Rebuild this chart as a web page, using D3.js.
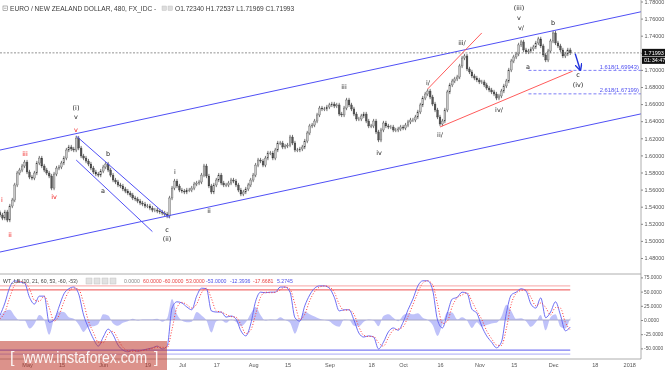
<!DOCTYPE html>
<html>
<head>
<meta charset="utf-8">
<script src="https://cdn.jsdelivr.net/npm/d3@7"></script>
<style>
  body { margin: 0; background: #fff; }
  svg { display: block; font-family: "Liberation Sans", Arial, sans-serif; }
</style>
</head>
<body>
<svg id="chart" width="665" height="370"></svg>
<script>
// daily closes from 2017-04-20 to 2017-12-08 (EUR/NZD)
const startDay = new Date(2017, 3, 20);
const firstOpen = 1.5330;
const closes = [
  1.5303,1.5267,1.5338,1.5244,1.5408,1.5478,1.5654,1.5794,1.5829,1.5876,
  1.5922,1.5806,1.5747,1.5735,1.5794,1.5911,1.5969,1.5876,1.5829,1.5794,
  1.5759,1.5618,1.5782,1.5852,1.5864,1.5911,1.5969,1.6063,1.6098,1.6075,
  1.6063,1.6203,1.6086,1.5993,1.5969,1.5934,1.5899,1.5852,1.5806,1.5782,
  1.5770,1.5817,1.5864,1.5899,1.5829,1.5770,1.5712,1.5689,1.5654,1.5642,
  1.5607,1.5583,1.5560,1.5537,1.5502,1.5490,1.5466,1.5443,1.5431,1.5408,
  1.5408,1.5384,1.5361,1.5361,1.5349,1.5338,1.5326,1.5314,1.5291,1.5502,
  1.5618,1.5700,1.5642,1.5595,1.5583,1.5572,1.5595,1.5595,1.5618,1.5665,
  1.5677,1.5689,1.5770,1.5876,1.5759,1.5642,1.5572,1.5654,1.5712,1.5770,
  1.5677,1.5654,1.5654,1.5677,1.5712,1.5700,1.5654,1.5595,1.5548,1.5572,
  1.5607,1.5654,1.5712,1.5770,1.5887,1.5946,1.5934,1.5887,1.5969,1.6028,
  1.6028,1.5969,1.6063,1.6145,1.6145,1.6098,1.6110,1.6121,1.6215,1.6145,
  1.6063,1.6063,1.6075,1.6098,1.6168,1.6262,1.6344,1.6355,1.6402,1.6473,
  1.6554,1.6543,1.6543,1.6566,1.6590,1.6601,1.6578,1.6590,1.6484,1.6473,
  1.6554,1.6648,1.6590,1.6543,1.6484,1.6426,1.6426,1.6461,1.6484,1.6402,
  1.6344,1.6344,1.6402,1.6274,1.6180,1.6297,1.6379,1.6344,1.6332,1.6332,
  1.6297,1.6297,1.6309,1.6332,1.6320,1.6355,1.6391,1.6414,1.6414,1.6449,
  1.6508,1.6590,1.6671,1.6718,1.6753,1.6683,1.6601,1.6531,1.6449,1.6367,
  1.6402,1.6531,1.6742,1.6824,1.6870,1.6894,1.6917,1.7046,1.7139,1.7163,
  1.7011,1.6976,1.6929,1.6905,1.6882,1.6859,1.6859,1.6824,1.6788,1.6765,
  1.6742,1.6718,1.6671,1.6695,1.6753,1.6812,1.6870,1.6999,1.7104,1.7151,
  1.7186,1.7292,1.7327,1.7233,1.7210,1.7221,1.7245,1.7268,1.7315,1.7362,
  1.7280,1.7175,1.7116,1.7221,1.7338,1.7432,1.7315,1.7280,1.7233,1.7163,
  1.7186,1.7233,1.71993
];

// WaveTrend oscillator, one value every 2 days
const wt1 = [
  8,30,58,69,67,65,40,28,42,42,
  -4,0,23,46,55,58,46,9,-14,-33,
  -46,-30,-16,-26,-44,-53,-56,-53,-55,-53,
  -51,-49,-46,-51,-46,21,32,30,23,18,
  42,56,55,16,14,14,5,7,2,-19,
  -28,-7,33,49,48,49,49,58,58,49,
  4,-2,25,44,56,60,60,56,40,16,
  18,18,0,-23,-30,-28,-30,-51,-39,-21,
  -14,-18,-4,18,37,60,69,69,53,0,
  -14,12,37,40,49,47,19,12,-11,-28,
  -39,-49,-39,12,44,49,55,51,28,21,
  39,4,14,32,9,-19,-12.39
];
const wt2 = [
  2,14,40,62,68,66,55,35,33,42,
  22,-2,8,32,50,56,54,30,-2,-22,
  -39,-40,-24,-20,-34,-48,-54,-55,-54,-54,
  -52,-50,-48,-48,-49,-16,22,31,27,21,
  28,48,56,38,16,14,10,6,5,-8,
  -24,-18,10,40,49,48,49,53,58,54,
  28,1,10,34,50,58,60,58,49,28,
  17,18,10,-12,-27,-29,-29,-40,-46,-31,
  -18,-16,-12,6,27,48,65,69,62,28,
  -6,-2,24,39,44,48,33,16,1,-19,
  -33,-44,-45,-15,28,47,52,53,40,25,
  30,22,9,22,21,-4,-17.67
];
const oscLevels = [[60, "#f7a5a5"], [53, "#ee4d4d"], [-53, "#5a5af0"], [-60, "#a9a9f7"]];

const priceTicks = [1.48,1.50,1.52,1.54,1.56,1.58,1.60,1.62,1.64,1.66,1.68,1.70,1.72,1.74,1.76,1.78];
const oscTicks = [75, 50, 25, 0, -25, -50];
const dateTicks = [
  ["2017-05-01","May"],["2017-05-15","15"],["2017-06-01","Jun"],["2017-06-19","19"],
  ["2017-07-03","Jul"],["2017-07-17","17"],["2017-08-01","Aug"],["2017-08-15","15"],
  ["2017-09-01","Sep"],["2017-09-18","18"],["2017-10-01","Oct"],["2017-10-16","16"],
  ["2017-11-01","Nov"],["2017-11-15","15"],["2017-12-01","Dec"],["2017-12-18","18"],
  ["2018-01-01","2018"]
];

// wave count labels: text, date, price, colour
const waveLabels = [
  ["i","2017-04-21",1.5478,"r"],["ii","2017-04-24",1.5069,"r"],["iii","2017-04-30",1.6016,"r"],
  ["iv","2017-05-12",1.5514,"r"],["v","2017-05-21",1.6297,"r"],
  ["v","2017-05-21",1.6449,"k"],["(i)","2017-05-21",1.6554,"k"],
  ["b","2017-06-03",1.6016,"k"],["a","2017-06-01",1.5584,"k"],
  ["c","2017-06-27",1.5128,"k"],["(ii)","2017-06-27",1.5022,"k"],
  ["i","2017-06-30",1.5806,"k"],["ii","2017-07-14",1.5350,"k"],
  ["iii","2017-09-07",1.6800,"k"],["iv","2017-09-21",1.6028,"k"],
  ["i/","2017-10-11",1.6847,"k"],["ii/","2017-10-16",1.6239,"k"],
  ["iii/","2017-10-25",1.7315,"k"],["iv/","2017-11-09",1.6531,"k"],
  ["(iii)","2017-11-17",1.7724,"k"],["v","2017-11-17",1.7607,"k"],["v/","2017-11-18",1.7490,"k"],
  ["b","2017-12-01",1.7549,"k"],["a","2017-11-21",1.7034,"k"],
  ["c","2017-12-11",1.6940,"k"],["(iv)","2017-12-11",1.6823,"k"]
];

// drawn lines: two anchors (date, price), colour, extend to pane edges
const trendLines = [
  [["2017-05-21",1.6255],["2017-12-01",1.7458],"#5050f6",true],
  [["2017-05-21",1.5062],["2017-12-01",1.6264],"#5050f6",true],
  [["2017-05-21",1.6227],["2017-06-28",1.5268],"#5050f6",false],
  [["2017-05-21",1.5946],["2017-06-21",1.5109],"#5050f6",false],
  [["2017-10-11",1.6777],["2017-11-02",1.7432],"#ff5b5b",false],
  [["2017-10-16",1.6332],["2017-12-09",1.6986],"#ff5b5b",false]
];
const fibLevels = [["1.618", 1.69943], ["2.618", 1.67199]];
const fibStart = "2017-11-21";
const arrowPts = [["2017-12-10",1.7190],["2017-12-12",1.7005]];

const parse = d3.timeParse("%Y-%m-%d");
const svg = d3.select("#chart");
const W = 641;

const x = d3.scaleTime().domain([startDay, parse("2017-12-01")]).range([0, 553.05]);
const y = d3.scaleLinear().domain([1.48, 1.78]).range([258, 1.5]);
const yo = d3.scaleLinear().domain([-50, 75]).range([348.4, 277.4]);

const defs = svg.append("defs");
defs.append("clipPath").attr("id","clipMain").append("rect").attr("x",0).attr("y",0).attr("width",W).attr("height",273);
defs.append("clipPath").attr("id","clipOsc").append("rect").attr("x",0).attr("y",275).attr("width",W).attr("height",84);
defs.append("marker").attr("id","arrowHead").attr("viewBox","0 0 10 10").attr("refX",8).attr("refY",5)
  .attr("markerWidth",5).attr("markerHeight",5).attr("orient","auto")
  .append("path").attr("d","M0,0 L10,5 L0,10").attr("fill","none").attr("stroke","#2233dd").attr("stroke-width",2);
// filters so small text is drawn without colour fringes
defs.append("filter").attr("id","grey").append("feColorMatrix").attr("type","saturate").attr("values",0);
defs.append("filter").attr("id","flat").append("feColorMatrix").attr("type","saturate").attr("values",1);

// ---------- main pane ----------
const gMain = svg.append("g").attr("clip-path","url(#clipMain)");

const bars = closes.map((c, i) => ({ date: d3.timeDay.offset(startDay, i), o: i ? closes[i-1] : firstOpen, c }));
const wick = 0.0025;

gMain.append("g").selectAll("line").data(bars).join("line")
  .attr("x1", d => x(d.date)).attr("x2", d => x(d.date))
  .attr("y1", d => y(Math.max(d.o, d.c) + wick))
  .attr("y2", d => y(Math.min(d.o, d.c) - wick))
  .attr("stroke", "#3c3c3c").attr("stroke-width", 0.7);

gMain.append("g").selectAll("rect").data(bars).join("rect")
  .attr("x", d => x(d.date) - 0.9).attr("width", 1.8)
  .attr("y", d => y(Math.max(d.o, d.c)))
  .attr("height", d => Math.max(0.7, Math.abs(y(d.o) - y(d.c))))
  .attr("fill", d => d.c >= d.o ? "#c8c8c8" : "#555")
  .attr("stroke", "#333").attr("stroke-width", 0.3);

// current price line
const lastClose = closes[closes.length - 1];
gMain.append("line").attr("x1",0).attr("x2",W).attr("y1",y(lastClose)).attr("y2",y(lastClose))
  .attr("stroke","#777").attr("stroke-width",0.8).attr("stroke-dasharray","2,1.5");

// trend lines
trendLines.forEach(([a, b, col, ext]) => {
  const X1 = x(parse(a[0])), Y1 = y(a[1]), X2 = x(parse(b[0])), Y2 = y(b[1]);
  const m = (Y2 - Y1) / (X2 - X1);
  const xa = ext ? 0 : X1, xb = ext ? W : X2;
  gMain.append("line")
    .attr("x1", xa).attr("y1", Y1 + m * (xa - X1))
    .attr("x2", xb).attr("y2", Y1 + m * (xb - X1))
    .attr("stroke", col).attr("stroke-width", 1);
});

// fibonacci targets
fibLevels.forEach(([r, v]) => {
  gMain.append("line").attr("x1", x(parse(fibStart))).attr("x2", W)
    .attr("y1", y(v)).attr("y2", y(v))
    .attr("stroke","#5d5df5").attr("stroke-width",0.8).attr("stroke-dasharray","3,2");
  gMain.append("text").attr("x", 639).attr("y", y(v) - 1.5).attr("filter","url(#flat)")
    .attr("text-anchor","end").attr("font-size", 5.8).attr("fill","#5050f0")
    .text(`${r}(${v.toFixed(5)})`);
});

// projected move arrow
gMain.append("line")
  .attr("x1", x(parse(arrowPts[0][0]))).attr("y1", y(arrowPts[0][1]))
  .attr("x2", x(parse(arrowPts[1][0]))).attr("y2", y(arrowPts[1][1]))
  .attr("stroke","#2233dd").attr("stroke-width",1.4).attr("marker-end","url(#arrowHead)");

// wave labels
const redLabels = waveLabels.filter(d => d[3] === "r");
const blackLabels = waveLabels.filter(d => d[3] !== "r");
[[blackLabels, "#222", "url(#grey)"], [redLabels, "#f01818", "url(#flat)"]].forEach(([rows, col, flt]) => {
  gMain.append("g").attr("filter", flt)
    .attr("font-size", 6.5).attr("font-family","DejaVu Sans, sans-serif").attr("fill", col)
    .selectAll("text").data(rows).join("text")
    .attr("x", d => Math.round(x(parse(d[1])))).attr("y", d => Math.round(y(d[2])))
    .attr("text-anchor","middle").attr("dominant-baseline","central")
    .text(d => d[0]);
});

// ---------- oscillator pane ----------
const gOsc = svg.append("g").attr("clip-path","url(#clipOsc)");
const osc = wt1.map((v, k) => ({ date: d3.timeDay.offset(startDay, 2 * k), v, s: wt2[k] }));
const xEnd = x(osc[osc.length - 1].date);

gOsc.append("path").datum(osc)
  .attr("d", d3.area().x(d => x(d.date)).y0(yo(0)).y1(d => yo(d.v - d.s)).curve(d3.curveMonotoneX))
  .attr("fill","#a9aef7").attr("opacity",0.75);

gOsc.append("line").attr("x1",0).attr("x2",xEnd).attr("y1",yo(0)).attr("y2",yo(0))
  .attr("stroke","#a7a7c9").attr("stroke-width",1.2);

oscLevels.forEach(([v, col]) => {
  gOsc.append("line").attr("x1",0).attr("x2",xEnd).attr("y1",yo(v)).attr("y2",yo(v))
    .attr("stroke",col).attr("stroke-width",1);
});

gOsc.append("path").datum(osc)
  .attr("d", d3.line().x(d => x(d.date)).y(d => yo(d.v)).curve(d3.curveMonotoneX))
  .attr("fill","none").attr("stroke","#5f5ff2").attr("stroke-width",0.9);

gOsc.append("path").datum(osc)
  .attr("d", d3.line().x(d => x(d.date)).y(d => yo(d.s)).curve(d3.curveMonotoneX))
  .attr("fill","none").attr("stroke","#ff3b3b").attr("stroke-width",1)
  .attr("stroke-dasharray","1,1.8");

// ---------- frame & axes ----------
svg.append("line").attr("x1",0).attr("x2",W).attr("y1",274).attr("y2",274).attr("stroke","#9a9a9a").attr("stroke-width",0.8);
svg.append("line").attr("x1",0).attr("x2",W).attr("y1",359).attr("y2",359).attr("stroke","#9a9a9a").attr("stroke-width",0.8);
svg.append("line").attr("x1",W).attr("x2",W).attr("y1",0).attr("y2",359).attr("stroke","#9a9a9a").attr("stroke-width",0.8);

const axP = svg.append("g").attr("transform",`translate(${W},0)`)
  .call(d3.axisRight(y).tickValues(priceTicks).tickFormat(d => d.toFixed(5)).tickSize(2).tickPadding(1.5));
const axO = svg.append("g").attr("transform",`translate(${W},0)`)
  .call(d3.axisRight(yo).tickValues(oscTicks).tickFormat(d => d.toFixed(4)).tickSize(2).tickPadding(1));
const axD = svg.append("g").attr("transform","translate(0,359)")
  .call(d3.axisBottom(x).tickValues(dateTicks.map(d => parse(d[0])))
    .tickFormat((d, i) => dateTicks[i][1]).tickSize(0).tickPadding(4));
[axP, axO, axD].forEach(a => {
  a.attr("filter","url(#grey)");
  a.select(".domain").remove();
  a.selectAll("line").attr("stroke","#888");
  a.selectAll("text").attr("font-size",5.5).attr("fill","#555");
});
axO.selectAll("text").attr("font-size",4.9);

// last price tags
const tags = svg.append("g").attr("filter","url(#grey)");
tags.append("rect").attr("x",642).attr("y",y(lastClose)-4).attr("width",23).attr("height",7.5).attr("fill","#111");
tags.append("text").attr("x",644).attr("y",y(lastClose)+1.8).attr("font-size",5.5).attr("fill","#fff").text(lastClose.toFixed(5));
tags.append("rect").attr("x",642).attr("y",y(lastClose)+4).attr("width",23).attr("height",7).attr("fill","#111");
tags.append("text").attr("x",644).attr("y",y(lastClose)+9.5).attr("font-size",5.5).attr("fill","#fff").text("01:34:47");

// titles
const title = svg.append("g").attr("fill","#3a3a3a").attr("filter","url(#grey)");
title.append("rect").attr("x",3).attr("y",6).attr("width",4.5).attr("height",4.5).attr("fill","none").attr("stroke","#666").attr("stroke-width",0.5);
title.append("line").attr("x1",4).attr("x2",6.5).attr("y1",8.25).attr("y2",8.25).attr("stroke","#666").attr("stroke-width",0.5);
title.append("text").attr("x",10).attr("y",11).attr("font-size",6.6).text("EURO / NEW ZEALAND DOLLAR, 480, FX_IDC -");
[162, 168].forEach(px => title.append("rect").attr("x",px).attr("y",6).attr("width",4.5).attr("height",4.5).attr("fill","#ddd").attr("stroke","#bbb").attr("stroke-width",0.4));
title.append("text").attr("x",175).attr("y",11).attr("font-size",6.6).text("O1.72340  H1.72537  L1.71969  C1.71993");

const oscTitle = svg.append("g").attr("font-size",5.2).attr("filter","url(#flat)");
oscTitle.append("text").attr("x",3).attr("y",283).attr("fill","#444").text("WT_LB (10, 21, 60, 53, -60, -53)");
[86, 94, 102, 110].forEach(px => oscTitle.append("rect").attr("x",px).attr("y",278).attr("width",6).attr("height",6).attr("fill","#e2e2e2").attr("stroke","#bbb").attr("stroke-width",0.4));
[["0.0000",124,"#888"],["60.0000",143,"#e84444"],["-60.0000",163,"#e84444"],["53.0000",186,"#e84444"],
 ["-53.0000",206,"#5050e8"],["-12.3936",230,"#5050e8"],["-17.6681",253,"#e84444"],["5.2745",277,"#5050e8"]]
  .forEach(([t, px, col]) => oscTitle.append("text").attr("x",px).attr("y",283).attr("fill",col).text(t));

// watermark
svg.append("rect").attr("x",0).attr("y",341).attr("width",167).attr("height",29).attr("fill","#c0392b").attr("opacity",0.55);
const wm = svg.append("g").attr("fill","#fff").attr("opacity",0.9).attr("font-size",16);
wm.append("text").attr("x",10).attr("y",363).text("[");
wm.append("text").attr("x",23).attr("y",363).attr("textLength",124).attr("lengthAdjust","spacingAndGlyphs").text("www.instaforex.com");
wm.append("text").attr("x",154).attr("y",363).text("]");
</script>
</body>
</html>
